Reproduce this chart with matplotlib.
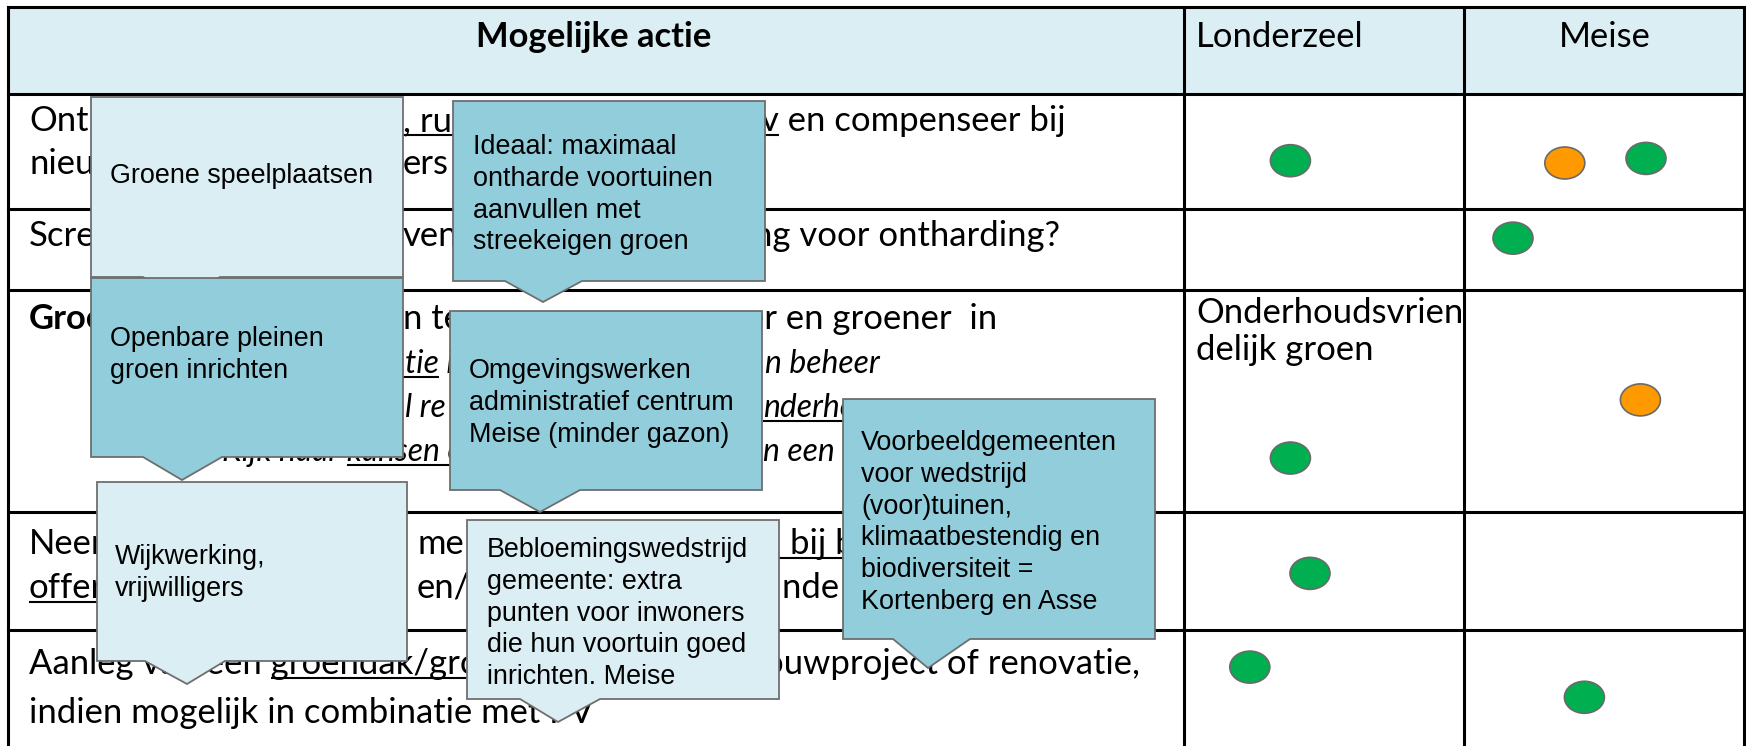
import matplotlib
matplotlib.use("Agg")
import matplotlib.pyplot as plt
from matplotlib.patches import Rectangle, Polygon, Ellipse
from matplotlib.font_manager import FontProperties

# ---------------- data ----------------
column_headers = ["Mogelijke actie", "Londerzeel", "Meise"]
municipalities = ["Londerzeel", "Meise"]

# visible text fragments of the first column, per row / line
row1_line1 = ["Onth", ", ru", "v en compenseer bij"]
row1_line2 = ["nieu", "ers"]
row2_line1 = ["Scre", "ven", "ng voor ontharding?"]
row3_line1 = ["Groe", "n te", "er en groener  in"]
row3_line2 = ["tie i", "n beheer"]
row3_line3 = ["l re", "nderho"]
row3_line4 = ["Kijk naar kansen o", "n een r"]
row4_line1 = ["Neer", "me", "bij b"]
row4_line2 = ["offer", "en/(", "nde r"]
row5_line1 = "Aanleg van een groendak/groengevel bij nieuwbouwproject of renovatie,"
row5_line2 = "indien mogelijk in combinatie met PV"
londerzeel_note = ["Onderhoudsvrien", "delijk groen"]

# status dots: (row index, municipality, status)
dot_rows = [0, 0, 0, 1, 2, 2, 3, 4, 4]
dot_municipality = ["Londerzeel", "Meise", "Meise", "Meise", "Meise",
                    "Londerzeel", "Londerzeel", "Londerzeel", "Meise"]
dot_status = ["groen", "oranje", "groen", "groen", "oranje",
              "groen", "groen", "groen", "groen"]

callout_texts = [
    ["Groene speelplaatsen"],
    ["Openbare pleinen", "groen inrichten"],
    ["Ideaal: maximaal", "ontharde voortuinen", "aanvullen met", "streekeigen groen"],
    ["Omgevingswerken", "administratief centrum", "Meise (minder gazon)"],
    ["Wijkwerking,", "vrijwilligers"],
    ["Bebloemingswedstrijd", "gemeente: extra", "punten voor inwoners",
     "die hun voortuin goed", "inrichten. Meise"],
    ["Voorbeeldgemeenten", "voor wedstrijd", "(voor)tuinen,",
     "klimaatbestendig en", "biodiversiteit =", "Kortenberg en Asse"],
]

# ---------------- layout / style ----------------
W, H = 1746, 746
fig = plt.figure(figsize=(W / 100, H / 100), dpi=100)
ax = fig.add_axes([0, 0, 1, 1])
ax.set_xlim(0, W)
ax.set_ylim(H, 0)
ax.axis("off")
renderer = fig.canvas.get_renderer()

BODY = "Lato"
CALL = "Liberation Sans"
status_colors = {"groen": "#00B050", "oranje": "#FF9900"}
LIGHT = "#DBEEF4"
MEDIUM = "#92CDDC"
EDGE = "#6E6E6E"


def tw(s, prop):
    return renderer.get_text_width_height_descent(s, prop, ismath=False)[0]


def prefix_w(s, prop):
    if not s:
        return 0.0
    return tw(s + "I", prop) - tw("I", prop)


def first_index_reaching(s, x0, prop, xlim):
    for i in range(len(s) + 1):
        if x0 + prefix_w(s[:i], prop) >= xlim:
            return i
    return len(s)


# calibrate font sizes on measured widths of the reference
probe = FontProperties(family=BODY, size=20)
body_size = 20 * (1112 / tw(row5_line1, probe))
probe_c = FontProperties(family=CALL, size=19)
call_size = 19 * (255 / tw("Voorbeeldgemeenten", probe_c))

F_REG = FontProperties(family=BODY, size=body_size)
F_BOLD = FontProperties(family=BODY, size=body_size, weight="bold")
F_IT = FontProperties(family=BODY, size=body_size * 0.92, style="italic")
F_CALL = FontProperties(family=CALL, size=call_size)

# table geometry
x_left, x_c1, x_c2, x_right = 8, 1184, 1464, 1744
y_top = 7
row_lines = [94, 209, 290, 512, 630]
row_bounds = [(94, 209), (209, 290), (290, 512), (512, 630), (630, 746)]
col_bounds = {"Londerzeel": (x_c1, x_c2), "Meise": (x_c2, x_right)}

# header fill
ax.add_patch(Rectangle((x_left, y_top), x_right - x_left, row_lines[0] - y_top,
                       facecolor="#DAEEF3", edgecolor="none", zorder=0))
LW = 2.2
for yy in [y_top] + row_lines:
    ax.plot([x_left, x_right], [yy, yy], color="black", lw=LW, zorder=1,
            solid_capstyle="projecting")
for xx in [x_left, x_c1, x_c2, x_right]:
    ax.plot([xx, xx], [y_top, H + 5], color="black", lw=LW, zorder=1,
            solid_capstyle="projecting")

# header texts
ax.text(594, 47, column_headers[0], ha="center", va="baseline",
        fontproperties=F_BOLD, zorder=2)
ax.text(1196, 47, column_headers[1], ha="left", va="baseline",
        fontproperties=F_REG, zorder=2)
ax.text(1605, 47, column_headers[2], ha="center", va="baseline",
        fontproperties=F_REG, zorder=2)


def put(s, x, y, ha="left", prop=F_REG, ul=None):
    ax.text(x, y, s, ha=ha, va="baseline", fontproperties=prop,
            color="black", zorder=2)
    if ul is not None:
        i0, i1, ext_l, ext_r = ul
        left = x if ha == "left" else x - tw(s, prop)
        ux0 = left + prefix_w(s[:i0], prop)
        ux1 = left + prefix_w(s[:i1], prop)
        if ext_l is not None:
            ux0 = ext_l
        if ext_r is not None:
            ux1 = ext_r
        ax.plot([ux0, ux1], [y + 4, y + 4], color="black", lw=1.5,
                solid_capstyle="butt", zorder=2)


# row 1
put(row1_line1[0], 29, 131)
put(row1_line1[1], 403, 131, ul=(0, 4, None, 470))
put(row1_line1[2], 1066, 131, ha="right", ul=(0, 1, 750, None))
put(row1_line2[0], 29, 174)
put(row1_line2[1], 403, 174)
# row 2
put(row2_line1[0], 29, 246)
put(row2_line1[1], 403, 246)
put(row2_line1[2], 1060, 246, ha="right")
# row 3
put(row3_line1[0], 29, 329, prop=F_BOLD)
put(row3_line1[1], 403, 329)
put(row3_line1[2], 997, 329, ha="right")
put(row3_line2[0], 405, 373, prop=F_IT, ul=(0, 3, 380, None))
put(row3_line2[1], 765, 373, prop=F_IT)
put(row3_line3[0], 405, 417, prop=F_IT)
put(row3_line3[1], 763, 417, prop=F_IT, ul=(0, 6, None, 860))
s = row3_line4[0]
put(s, 222, 461, prop=F_IT, ul=(s.index("kansen"), len(s), None, 470))
put(row3_line4[1], 763, 461, prop=F_IT)
# row 4
put(row4_line1[0], 29, 554)
put(row4_line1[1], 417, 554)
put(row4_line1[2], 790, 554, ul=(0, 5, 770, 860))
put(row4_line2[0], 29, 598, ul=(0, 5, None, 110))
put(row4_line2[1], 417, 598)
put(row4_line2[2], 782, 598)
# row 5: only the parts not covered by the "Bebloemingswedstrijd" callout
s = row5_line1
x5 = 29
ia = first_index_reaching(s, x5, F_REG, 470)
ib = max(first_index_reaching(s, x5, F_REG, 779) - 1, ia)
g0 = s.index("groendak")
put(s[:ia], x5, 674, ul=(g0, ia, None, 480))
put(s[ib:], x5 + prefix_w(s[:ib], F_REG), 674)
put(row5_line2, 29, 723)

# Londerzeel note
put(londerzeel_note[0], 1196, 323)
put(londerzeel_note[1], 1196, 360)

# status dots (fractional position inside their cell)
dot_pos = [(0.38, 0.58), (0.36, 0.60), (0.65, 0.56), (0.175, 0.36), (0.63, 0.495),
           (0.38, 0.757), (0.45, 0.52), (0.235, 0.32), (0.43, 0.58)]
for r, m, st, (fx, fy) in zip(dot_rows, dot_municipality, dot_status, dot_pos):
    cx0, cx1 = col_bounds[m]
    ry0, ry1 = row_bounds[r]
    cx = cx0 + fx * (cx1 - cx0)
    cy = ry0 + fy * (ry1 - ry0)
    ax.add_patch(Ellipse((cx, cy), 40, 32, facecolor=status_colors[st],
                         edgecolor="#6A6A6A", lw=1.2, zorder=4))

# callouts: box (x0, y0, x1, y1), pointer (base left, base right, tip x, tip y)
callout_geo = [
    (91, 97, 403, 277, 143, 220, 182, 300),
    (91, 278, 403, 457, 143, 222, 182, 480),
    (453, 101, 765, 281, 505, 582, 543, 302),
    (450, 311, 762, 490, 500, 580, 540, 512),
    (97, 482, 407, 661, 145, 225, 187, 684),
    (467, 520, 779, 699, 520, 600, 558, 722),
    (843, 399, 1155, 639, 893, 970, 928, 668),
]
callout_fill = [LIGHT, MEDIUM, MEDIUM, MEDIUM, LIGHT, LIGHT, MEDIUM]
callout_text_pos = [(110, 183), (110, 346), (473, 154), (469, 378),
                    (115, 564), (487, 557), (861, 450)]
LINE_STEP = 31.8
for k, (geo, fill, lines, (tx, ty)) in enumerate(
        zip(callout_geo, callout_fill, callout_texts, callout_text_pos)):
    x0, y0, x1, y1, bl, br, px, py = geo
    z = 5 + k * 0.1
    poly = Polygon([(x0, y0), (x1, y0), (x1, y1), (br, y1), (px, py),
                    (bl, y1), (x0, y1)], closed=True, facecolor=fill,
                   edgecolor=EDGE, lw=1.3, joinstyle="miter", zorder=z)
    ax.add_patch(poly)
    for j, line in enumerate(lines):
        ax.text(tx, ty + j * LINE_STEP, line, ha="left", va="baseline",
                fontproperties=F_CALL, color="black", zorder=z + 0.05)

fig.savefig("out.png", dpi=100)
